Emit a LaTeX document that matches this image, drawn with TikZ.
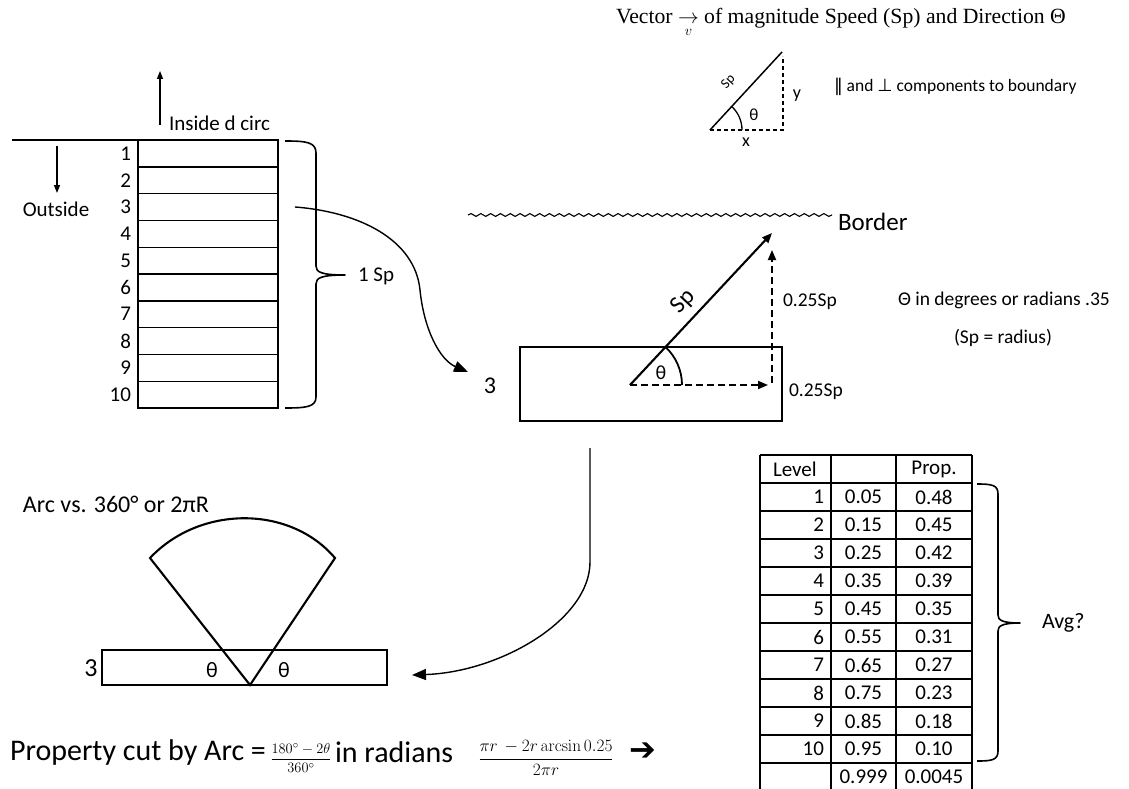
\documentclass[tikz,border=0pt]{standalone}
\usepackage{amsmath}
\usepackage[no-math]{fontspec}
\setmainfont{Carlito}
\newfontfamily\titlefont{Liberation Serif}
\newfontfamily\symfont{DejaVu Sans}
\usetikzlibrary{arrows.meta,decorations.pathmorphing,calc}
\begin{document}
\begin{tikzpicture}[x=1pt,y=-1pt,
  every node/.style={inner sep=0pt, outer sep=0pt},
  txt/.style={font=\fontsize{21}{25}\selectfont},
  smalltxt/.style={font=\fontsize{18}{22}\selectfont},
  boxline/.style={line width=1.4pt},
  rowbox/.style={draw, line width=1.4pt, minimum width=140pt, minimum height=26.8pt},
  tabline/.style={line width=1.3pt},
  vecline/.style={line width=2.1pt},
  dashline/.style={line width=1.8pt, dash pattern=on 7pt off 4pt},
  dashthin/.style={line width=1.2pt, dash pattern=on 4pt off 3pt},
  bigtip/.style={-{Triangle[length=14pt,width=11pt]}},
  midtip/.style={-{Triangle[length=10pt,width=8pt]}},
  smalltip/.style={-{Triangle[length=8pt,width=6pt]}},
  braceline/.style={line width=1.6pt, line join=round}
]
\useasboundingbox (0,0) rectangle (1129,789);

% ---------- title ----------
\node[anchor=west, font=\titlefont\fontsize{21.7}{26}\selectfont] (title) at (616,23)
  {Vector $\underset{v}{\rightarrow}$ of magnitude Speed (Sp) and Direction Θ};

% ---------- small triangle ----------
\coordinate (o2) at (710,130);
\coordinate (t2) at (782,52);
\coordinate (c2) at (783,130);
\coordinate (u2) at (783,56);
\draw[line width=1.5pt] (o2) -- (t2);
\draw[dashthin] (o2) -- (c2) -- (u2);
\draw[line width=1.3pt] ($(o2)+(32,0)$) arc[start angle=0, end angle=-47, radius=32];
\node[font=\fontsize{14}{16}\selectfont, rotate=47, anchor=base] (sp2) at (731,84) {Sp};
\node[font=\fontsize{17}{20}\selectfont] (th2) at (754,115) {θ};
\node[font=\fontsize{18}{20}\selectfont] (y2) at (797,96) {y};
\node[font=\fontsize{18}{20}\selectfont] (x2) at (746,142) {x};
\node[anchor=west, font=\fontsize{17.5}{21}\selectfont] (comp) at (834,87) {{\symfont ‖} and {\symfont ⊥} components to boundary};

% ---------- top-left levels box ----------
\draw[boxline] (12,140) -- (138,140);
\foreach \i in {1,...,10}{
  \node[rowbox] (r\i) at (208,{140+26.8*(\i-0.5)}) {};
  \node[txt, anchor=east] (n\i) at (131,{140+26.8*(\i-0.5)}) {\i};
}
\coordinate (inA) at (160,125);
\coordinate (inB) at (160,71);
\draw[boxline, smalltip] (inA) -- (inB);
\node[txt, anchor=west] (inside) at (169,123) {Inside d circ};
\coordinate (outA) at (57,146);
\coordinate (outB) at (57,193);
\draw[boxline, smalltip] (outA) -- (outB);
\node[txt] (outside) at (56,209) {Outside};

% brace 1
\draw[braceline] (285,141) .. controls (306,141) and (316,142) .. (316,153) -- (316,266)
  .. controls (316,272) and (321,275) .. (345,275)
  .. controls (321,275) and (316,278) .. (316,284) -- (316,397)
  .. controls (316,407) and (306,408) .. (285,408);
\node[txt, anchor=west] (onesp) at (358,276) {1 Sp};

% curve from level 3
\coordinate (c3) at ($(r3.east)+(17,0)$);
\coordinate (c3end) at (468,372);
\draw[boxline, bigtip] (c3) .. controls (360,212) and (415,240) .. (420,290)
  .. controls (424,330) and (440,360) .. (c3end);

% ---------- border ----------
\draw[line width=1.1pt, decorate, decoration={snake, amplitude=1.4pt, segment length=9.8pt}]
  (468,215) -- (832,215);
\node[anchor=west, font=\fontsize{25}{30}\selectfont] (border) at (838,222) {Border};

% ---------- main box ----------
\node[draw, boxline, minimum width=262pt, minimum height=74pt] (mainbox) at (651,384) {};
\node[font=\fontsize{24}{28}\selectfont] (three1) at (490,386) {3};
\coordinate (o) at (630,385);
\coordinate (t) at (772,233);
\coordinate (h) at (768,385);
\coordinate (vb) at (772,383);
\coordinate (vt) at (772,250);
\draw[vecline, midtip] (o) -- (t);
\draw[dashline, midtip] (o) -- (h);
\draw[dashline, midtip] (vb) -- (vt);
\draw[line width=1.8pt] ($(o)+(52,0)$) arc[start angle=0, end angle=-47, radius=52];
\node[font=\fontsize{20}{24}\selectfont] (th1) at (661,373) {θ};
\node[font=\fontsize{24}{28}\selectfont, rotate=47, anchor=base] (sp1) at (688,306) {Sp};
\node[font=\fontsize{19.5}{23}\selectfont, anchor=west] (q1) at (783,302) {0.25Sp};
\node[font=\fontsize{19.5}{23}\selectfont, anchor=west] (q2) at (789,392) {0.25Sp};
\node[font=\fontsize{19.5}{23}\selectfont, anchor=west] (deg) at (898,300) {Θ in degrees or radians .35};
\node[font=\fontsize{19.5}{23}\selectfont] (rad) at (1003,338) {(Sp = radius)};

% curve to bottom rectangle
\coordinate (c4) at (590,448);
\coordinate (c4end) at (412,675);
\draw[boxline, bigtip] (c4) -- (590,562) .. controls (590,620) and (500,672) .. (c4end);

% ---------- arc sector ----------
\node[anchor=west, font=\fontsize{24}{28}\selectfont] (arcvs) at (23,504) {Arc vs. 360° or 2πR};
\node[draw, boxline, minimum width=285pt, minimum height=35pt] (rect3) at (244.5,667.5) {};
\node[font=\fontsize{26}{30}\selectfont] (three2) at (91,668) {3};
\coordinate (p1) at (150,558);
\coordinate (p2) at (335,558);
\coordinate (apex) at (250,685);
\draw[vecline, line join=miter] (apex) -- (p1) .. controls (200,505) and (290,505) .. (p2) -- cycle;
\node[font=\fontsize{22}{26}\selectfont] (th3) at (212,670) {θ};
\node[font=\fontsize{22}{26}\selectfont] (th4) at (284,670) {θ};

% ---------- formula ----------
\node[anchor=west, font=\fontsize{30}{34}\selectfont] (prop) at (10,752) {Property cut by Arc =};
\node[font=\fontsize{15}{18}\selectfont] (frac1) at (301,758) {$\dfrac{180^\circ-2\theta}{360^\circ}$};
\node[anchor=west, font=\fontsize{30}{34}\selectfont] (inrad) at (335,752) {in radians};
\node[font=\fontsize{17}{20}\selectfont] (frac2) at (546,758) {$\dfrac{\pi r\,-2r\arcsin 0.25}{2\pi r}$};
\node[font=\symfont\fontsize{32}{34}\selectfont] (arr) at (643,752) {➔};

% ---------- table ----------
\foreach \x in {760,831,896,972} \draw[tabline] (\x,455) -- (\x,789);
\foreach \k in {0,...,11} \draw[tabline] (760,{455+28*\k}) -- (972,{455+28*\k});
\node[txt, anchor=west] (lvl) at (773,469) {Level};
\node[txt] (prophead) at (934,469) {Prop.};
\foreach \i/\a/\b in {1/0.05/0.48, 2/0.15/0.45, 3/0.25/0.42, 4/0.35/0.39, 5/0.45/0.35,
   6/0.55/0.31, 7/0.65/0.27, 8/0.75/0.23, 9/0.85/0.18, 10/0.95/0.10}{
  \node[txt, anchor=east] (tl\i) at (824,{469+28*\i}) {\i};
  \node[txt] (ta\i) at (863.5,{469+28*\i}) {\a};
  \node[txt] (tb\i) at (934,{469+28*\i}) {\b};
}
\node[txt] (ta11) at (863.5,777) {0.999};
\node[txt] (tb11) at (934,777) {0.0045};

% brace 2
\draw[braceline] (977,484) .. controls (992,484) and (998,485) .. (998,494) -- (998,615)
  .. controls (998,620) and (1002,623) .. (1020,623)
  .. controls (1002,623) and (998,626) .. (998,631) -- (998,751)
  .. controls (998,760) and (992,761) .. (977,761);
\node[font=\fontsize{22}{26}\selectfont, anchor=west] (avg) at (1042,623) {Avg?};
\end{tikzpicture}
\end{document}
